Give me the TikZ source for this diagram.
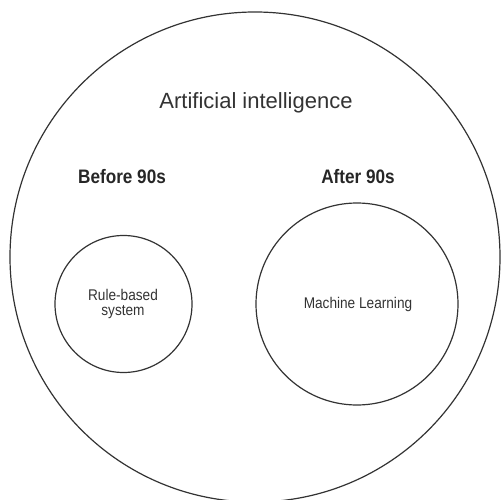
\documentclass[tikz,border=0pt]{standalone}
\usepackage{fontspec}
\setmainfont{Liberation Sans}
\newfontfamily\condfont[FakeStretch=0.88]{Liberation Sans}
\begin{document}
\begin{tikzpicture}[x=1pt,y=-1pt,
  ring/.style={draw=black!80,line width=1.2pt,circle,inner sep=0pt},
  title/.style={text=black!80,font=\fontsize{22}{26}\selectfont},
  era/.style={text=black!85,font=\condfont\bfseries\fontsize{19.5}{22}\selectfont},
  inner/.style={text=black!80,align=center,font=\condfont\fontsize{15.5}{14.5}\selectfont}]
\useasboundingbox (0,0) rectangle (501,500);
\node[ring,minimum size=490pt] (ai) at (255,257) {};
\node[ring,minimum size=137pt] (rb) at (123.5,304) {};
\node[ring,minimum size=202pt] (ml) at (357,304) {};
\node[title] (ailab) at (256,103) {Artificial intelligence};
\node[era] (before) at (122,177) {Before 90s};
\node[era] (after) at (358,177) {After 90s};
\node[inner] (rblab) at (123,304) {Rule-based\\system};
\node[inner] (mllab) at (358,304) {Machine Learning};
\end{tikzpicture}
\end{document}
